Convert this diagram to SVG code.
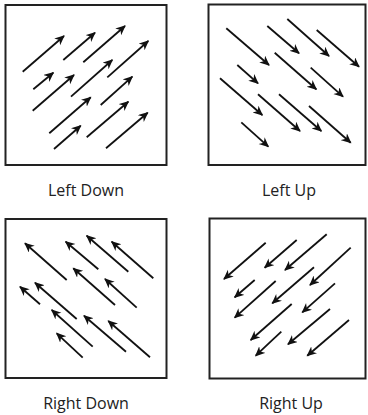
<svg xmlns="http://www.w3.org/2000/svg" width="368" height="415" viewBox="0 0 368 415">
<style>
.box{fill:#fff;stroke:#222;stroke-width:2}
.ar line{stroke:#111;stroke-width:1.8;marker-end:url(#ah)}
.lbl{font-family:"Open Sans","Liberation Sans",sans-serif;font-size:16px;fill:#222;text-anchor:middle}
</style>
<defs>
<marker id="ah" markerUnits="userSpaceOnUse" markerWidth="12" markerHeight="10" refX="9" refY="4.5" orient="auto">
<path d="M0,0 L10,4.5 L0,9 L3,4.5 Z" fill="#111"/>
</marker>
</defs>
<rect width="368" height="415" fill="#fff"/>
<g id="panel-left-down">
<rect class="box" x="5.5" y="5" width="161" height="160"/>
<g class="ar">
<line x1="22.7" y1="71.7" x2="64" y2="36"/>
<line x1="63.3" y1="60" x2="95" y2="32.7"/>
<line x1="83.3" y1="62.3" x2="125" y2="26"/>
<line x1="33.3" y1="89.3" x2="53.3" y2="72.7"/>
<line x1="32.7" y1="110.7" x2="74" y2="75"/>
<line x1="71" y1="96.7" x2="112.3" y2="60"/>
<line x1="107.3" y1="77.3" x2="148.3" y2="41"/>
<line x1="49.3" y1="133.3" x2="90.7" y2="97.3"/>
<line x1="100.7" y1="105" x2="132.3" y2="76.7"/>
<line x1="54" y1="149" x2="80.7" y2="125.7"/>
<line x1="86.7" y1="137.3" x2="128.3" y2="101.7"/>
<line x1="106" y1="148.3" x2="147.7" y2="112.7"/>
</g>
<text class="lbl" x="86" y="196">Left Down</text>
</g>
<g id="panel-left-up">
<rect class="box" x="208.5" y="4.5" width="157" height="160.5"/>
<g class="ar">
<line x1="226.3" y1="28.3" x2="269" y2="65"/>
<line x1="267.3" y1="26" x2="299" y2="53.3"/>
<line x1="287.3" y1="19" x2="329" y2="56"/>
<line x1="316.7" y1="30" x2="359" y2="66.7"/>
<line x1="237.3" y1="65" x2="258" y2="83.3"/>
<line x1="274.7" y1="52.7" x2="316.3" y2="89.3"/>
<line x1="310.7" y1="67.7" x2="343" y2="96.7"/>
<line x1="220" y1="78.3" x2="262.3" y2="115"/>
<line x1="258" y1="94.3" x2="300" y2="131"/>
<line x1="279" y1="94.3" x2="321.3" y2="131"/>
<line x1="309" y1="106" x2="350.7" y2="142.7"/>
<line x1="241.3" y1="122.3" x2="268.3" y2="146.7"/>
</g>
<text class="lbl" x="289" y="196">Left Up</text>
</g>
<g id="panel-right-down">
<rect class="box" x="5.5" y="219" width="161" height="159"/>
<g class="ar">
<line x1="66.7" y1="280" x2="25" y2="243.3"/>
<line x1="98.3" y1="269.3" x2="65.7" y2="241.7"/>
<line x1="128.3" y1="271.7" x2="86.7" y2="235.7"/>
<line x1="153.3" y1="278.3" x2="111.7" y2="241.7"/>
<line x1="40" y1="304.3" x2="20" y2="286.7"/>
<line x1="76.7" y1="319" x2="35" y2="282.7"/>
<line x1="115" y1="305" x2="73.3" y2="268.3"/>
<line x1="136.7" y1="307.7" x2="105" y2="279"/>
<line x1="92.7" y1="346.7" x2="51.7" y2="310"/>
<line x1="126" y1="351.7" x2="84" y2="315.7"/>
<line x1="150" y1="357.3" x2="108.3" y2="321"/>
<line x1="82.7" y1="357.7" x2="56.7" y2="333.3"/>
</g>
<text class="lbl" x="86" y="409">Right Down</text>
</g>
<g id="panel-right-up">
<rect class="box" x="209.5" y="218.5" width="156" height="160"/>
<g class="ar">
<line x1="265.7" y1="242.7" x2="224" y2="279"/>
<line x1="296.7" y1="240" x2="264.7" y2="267.7"/>
<line x1="326.7" y1="234.3" x2="285" y2="270"/>
<line x1="350.7" y1="247.7" x2="310" y2="285"/>
<line x1="254.7" y1="280" x2="234.7" y2="297.3"/>
<line x1="275.7" y1="281" x2="234.7" y2="317.7"/>
<line x1="314" y1="267.3" x2="272.3" y2="303.3"/>
<line x1="335" y1="283.3" x2="302.3" y2="312.3"/>
<line x1="291.7" y1="304" x2="250.7" y2="340"/>
<line x1="330" y1="309" x2="288" y2="344.3"/>
<line x1="349" y1="320" x2="307.3" y2="355.7"/>
<line x1="281.3" y1="331.7" x2="255.7" y2="355.7"/>
</g>
<text class="lbl" x="291" y="409">Right Up</text>
</g>
</svg>
